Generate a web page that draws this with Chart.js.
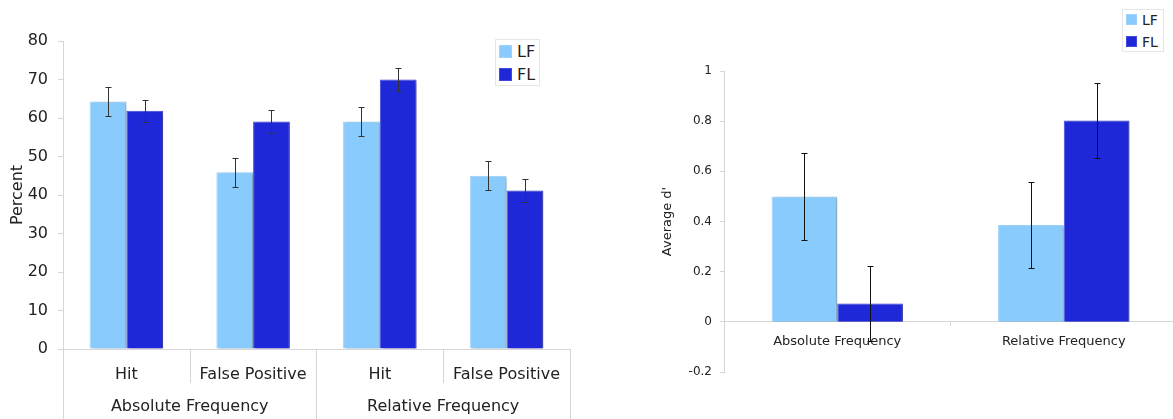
<!DOCTYPE html>
<html>
<head>
<meta charset="utf-8">
<script src="https://cdn.jsdelivr.net/npm/chart.js@4/dist/chart.umd.min.js"></script>
<style>
    body { margin: 0; width: 1173px; height: 419px; overflow: hidden; background: #fff; position: relative; font-family: 'DejaVu Sans', Verdana, sans-serif; color: #222; }
    .wrap { position: absolute; top: 0; height: 419px; }
    .legend { position: absolute; border: 1px solid #e6e6e6; background: #fff; z-index: 2; box-sizing: border-box; }
    .legend .sq { position: absolute; box-sizing: border-box; }
    .legend .tx { position: absolute; white-space: nowrap; }
</style>
</head>
<body>
<div class="wrap" style="left:0; width:576px;"><canvas id="leftChart"></canvas></div>
<div class="wrap" style="left:640px; width:537px;"><canvas id="rightChart"></canvas></div>
<div class="legend" id="leftLegend" style="left:495px; top:39px; width:45px; height:47px;"></div>
<div class="legend" id="rightLegend" style="left:1122px; top:9px; width:42px; height:43px;"></div>
<script>
// series
const seriesNames = ['LF', 'FL'];
const seriesColors = ['#8ACBFE', '#1E28D8'];
const seriesBorders = ['#9dd4fe', '#4049dc'];

// left chart - percent
const leftLabels = ['Hit', 'False Positive', 'Hit', 'False Positive'];
const leftGroups = ['Absolute Frequency', 'Relative Frequency'];
const lfPercent = [64.3, 45.9, 59.1, 45.0];
const flPercent = [61.9, 59.1, 70.0, 41.2];
const lfPercentErr = [3.75, 3.8, 3.85, 3.8];
const flPercentErr = [2.9, 2.95, 3.0, 2.95];

// right chart - d'
const rightLabels = ['Absolute Frequency', 'Relative Frequency'];
const lfDprime = [0.5, 0.386];
const flDprime = [0.073, 0.803];
const lfDprimeErr = [0.172, 0.172];
const flDprimeErr = [0.148, 0.148];

Chart.defaults.font.family = "'DejaVu Sans', Verdana, sans-serif";
Chart.defaults.color = '#222';

const axisGray = '#d6d6d6';

const barShadow = {
    id: 'barShadow',
    beforeDatasetsDraw(chart) {
        const ctx = chart.ctx;
        ctx.save();
        ctx.shadowColor = 'rgba(0,0,0,0.28)';
        ctx.shadowOffsetX = 3;
        ctx.shadowOffsetY = 1;
        ctx.shadowBlur = 2;
    },
    afterDatasetsDraw(chart) {
        chart.ctx.restore();
    }
};

const errorBars = {
    id: 'errorBars',
    afterDraw(chart, args, opts) {
        const ctx = chart.ctx;
        const y = chart.scales.y;
        ctx.save();
        ctx.strokeStyle = opts.color;
        ctx.lineWidth = 1;
        chart.data.datasets.forEach((ds, di) => {
            chart.getDatasetMeta(di).data.forEach((bar, i) => {
                const v = ds.data[i], e = ds.errors[i];
                const x = Math.round(bar.x) + 0.5;
                const t = Math.round(y.getPixelForValue(v + e)) + 0.5;
                const b = Math.round(y.getPixelForValue(v - e)) + 0.5;
                ctx.beginPath();
                ctx.moveTo(x, t); ctx.lineTo(x, b);
                ctx.moveTo(x - opts.cap, t); ctx.lineTo(x + opts.cap, t);
                ctx.moveTo(x - opts.cap, b); ctx.lineTo(x + opts.cap, b);
                ctx.stroke();
            });
        });
        ctx.restore();
    }
};

// dividers and group labels under the left x axis
const groupAxis = {
    id: 'groupAxis',
    afterDraw(chart) {
        const ctx = chart.ctx;
        const x = chart.scales.x;
        const per = leftLabels.length / leftGroups.length;
        ctx.save();
        ctx.strokeStyle = axisGray;
        ctx.lineWidth = 1;
        for (let i = 0; i <= leftLabels.length; i++) {
            const px = Math.round(x.getPixelForValue(i - 0.5)) + 0.5;
            ctx.beginPath();
            ctx.moveTo(px, x.top);
            ctx.lineTo(px, i % per === 0 ? chart.height : x.top + 34);
            ctx.stroke();
        }
        ctx.fillStyle = '#222';
        ctx.font = "16px 'DejaVu Sans', Verdana, sans-serif";
        ctx.textAlign = 'center';
        ctx.textBaseline = 'middle';
        leftGroups.forEach((g, gi) => {
            const a = x.getPixelForValue(gi * per - 0.5);
            const b = x.getPixelForValue((gi + 1) * per - 0.5);
            ctx.fillText(g, (a + b) / 2, x.top + 58);
        });
        ctx.restore();
    }
};

function makeSets(a, b, ea, eb) {
    return [a, b].map((d, i) => ({
        label: seriesNames[i],
        data: d,
        errors: [ea, eb][i],
        backgroundColor: seriesColors[i],
        borderColor: seriesBorders[i],
        borderWidth: 1,
        barPercentage: 1,
        categoryPercentage: 0.58
    }));
}

new Chart(document.getElementById('leftChart'), {
    type: 'bar',
    data: { labels: leftLabels, datasets: makeSets(lfPercent, flPercent, lfPercentErr, flPercentErr) },
    plugins: [barShadow, errorBars, groupAxis],
    options: {
        responsive: true,
        maintainAspectRatio: false,
        animation: false,
        layout: { padding: { top: 41, left: 0, right: 0, bottom: 0 } },
        plugins: {
            legend: { display: false },
            tooltip: { enabled: false },
            errorBars: { color: '#333', cap: 3 }
        },
        scales: {
            x: {
                grid: { drawOnChartArea: false, drawTicks: false },
                border: { color: axisGray },
                ticks: { font: { size: 16 }, padding: 16, maxRotation: 0, autoSkip: false },
                afterFit(s) { s.height = 70; }
            },
            y: {
                min: 0,
                max: 80,
                ticks: { stepSize: 10, font: { size: 16 }, padding: 10 },
                grid: { drawOnChartArea: false, tickLength: 5, color: axisGray },
                border: { color: axisGray },
                title: { display: true, text: 'Percent', font: { size: 16 }, padding: { top: 8, bottom: 0 } },
                afterFit(s) { s.width = 63; }
            }
        }
    }
});

new Chart(document.getElementById('rightChart'), {
    type: 'bar',
    data: { labels: rightLabels, datasets: makeSets(lfDprime, flDprime, lfDprimeErr, flDprimeErr) },
    plugins: [barShadow, errorBars],
    options: {
        responsive: true,
        maintainAspectRatio: false,
        animation: false,
        layout: { padding: { top: 71, left: 0, right: 0, bottom: 47 } },
        plugins: {
            legend: { display: false },
            tooltip: { enabled: false },
            errorBars: { color: '#111', cap: 3 }
        },
        scales: {
            x: {
                position: { y: 0 },
                grid: { drawOnChartArea: false, tickLength: 4, color: axisGray },
                border: { color: axisGray },
                ticks: { font: { size: 13 }, padding: 8, maxRotation: 0, autoSkip: false }
            },
            y: {
                min: -0.2,
                max: 1,
                ticks: { stepSize: 0.2, font: { size: 12 }, padding: 8, callback: v => String(+v.toFixed(1)) },
                grid: { drawOnChartArea: false, tickLength: 4, color: axisGray },
                border: { color: axisGray },
                title: { display: true, text: "Average d'", font: { size: 13 }, padding: { top: 20, bottom: 0 } },
                afterFit(s) { s.width = 84; }
            }
        }
    }
});

// legends
function buildLegend(id, sq, gap, first, fontSize, textLeft) {
    const el = document.getElementById(id);
    seriesNames.forEach((name, i) => {
        const top = first + i * gap;
        const s = document.createElement('div');
        s.className = 'sq';
        s.style.cssText = `left:3px; top:${top}px; width:${sq}px; height:${sq}px; background:${seriesColors[i]}; border:1px solid ${seriesBorders[i]};`;
        el.appendChild(s);
        const t = document.createElement('div');
        t.className = 'tx';
        t.textContent = name;
        t.style.cssText = `left:${textLeft}px; top:${top + sq / 2 - 10}px; line-height:20px; font-size:${fontSize}px;`;
        el.appendChild(t);
    });
}
buildLegend('leftLegend', 13, 23, 5, 16, 21);
buildLegend('rightLegend', 11, 22, 4, 14, 19);
</script>
</body>
</html>
